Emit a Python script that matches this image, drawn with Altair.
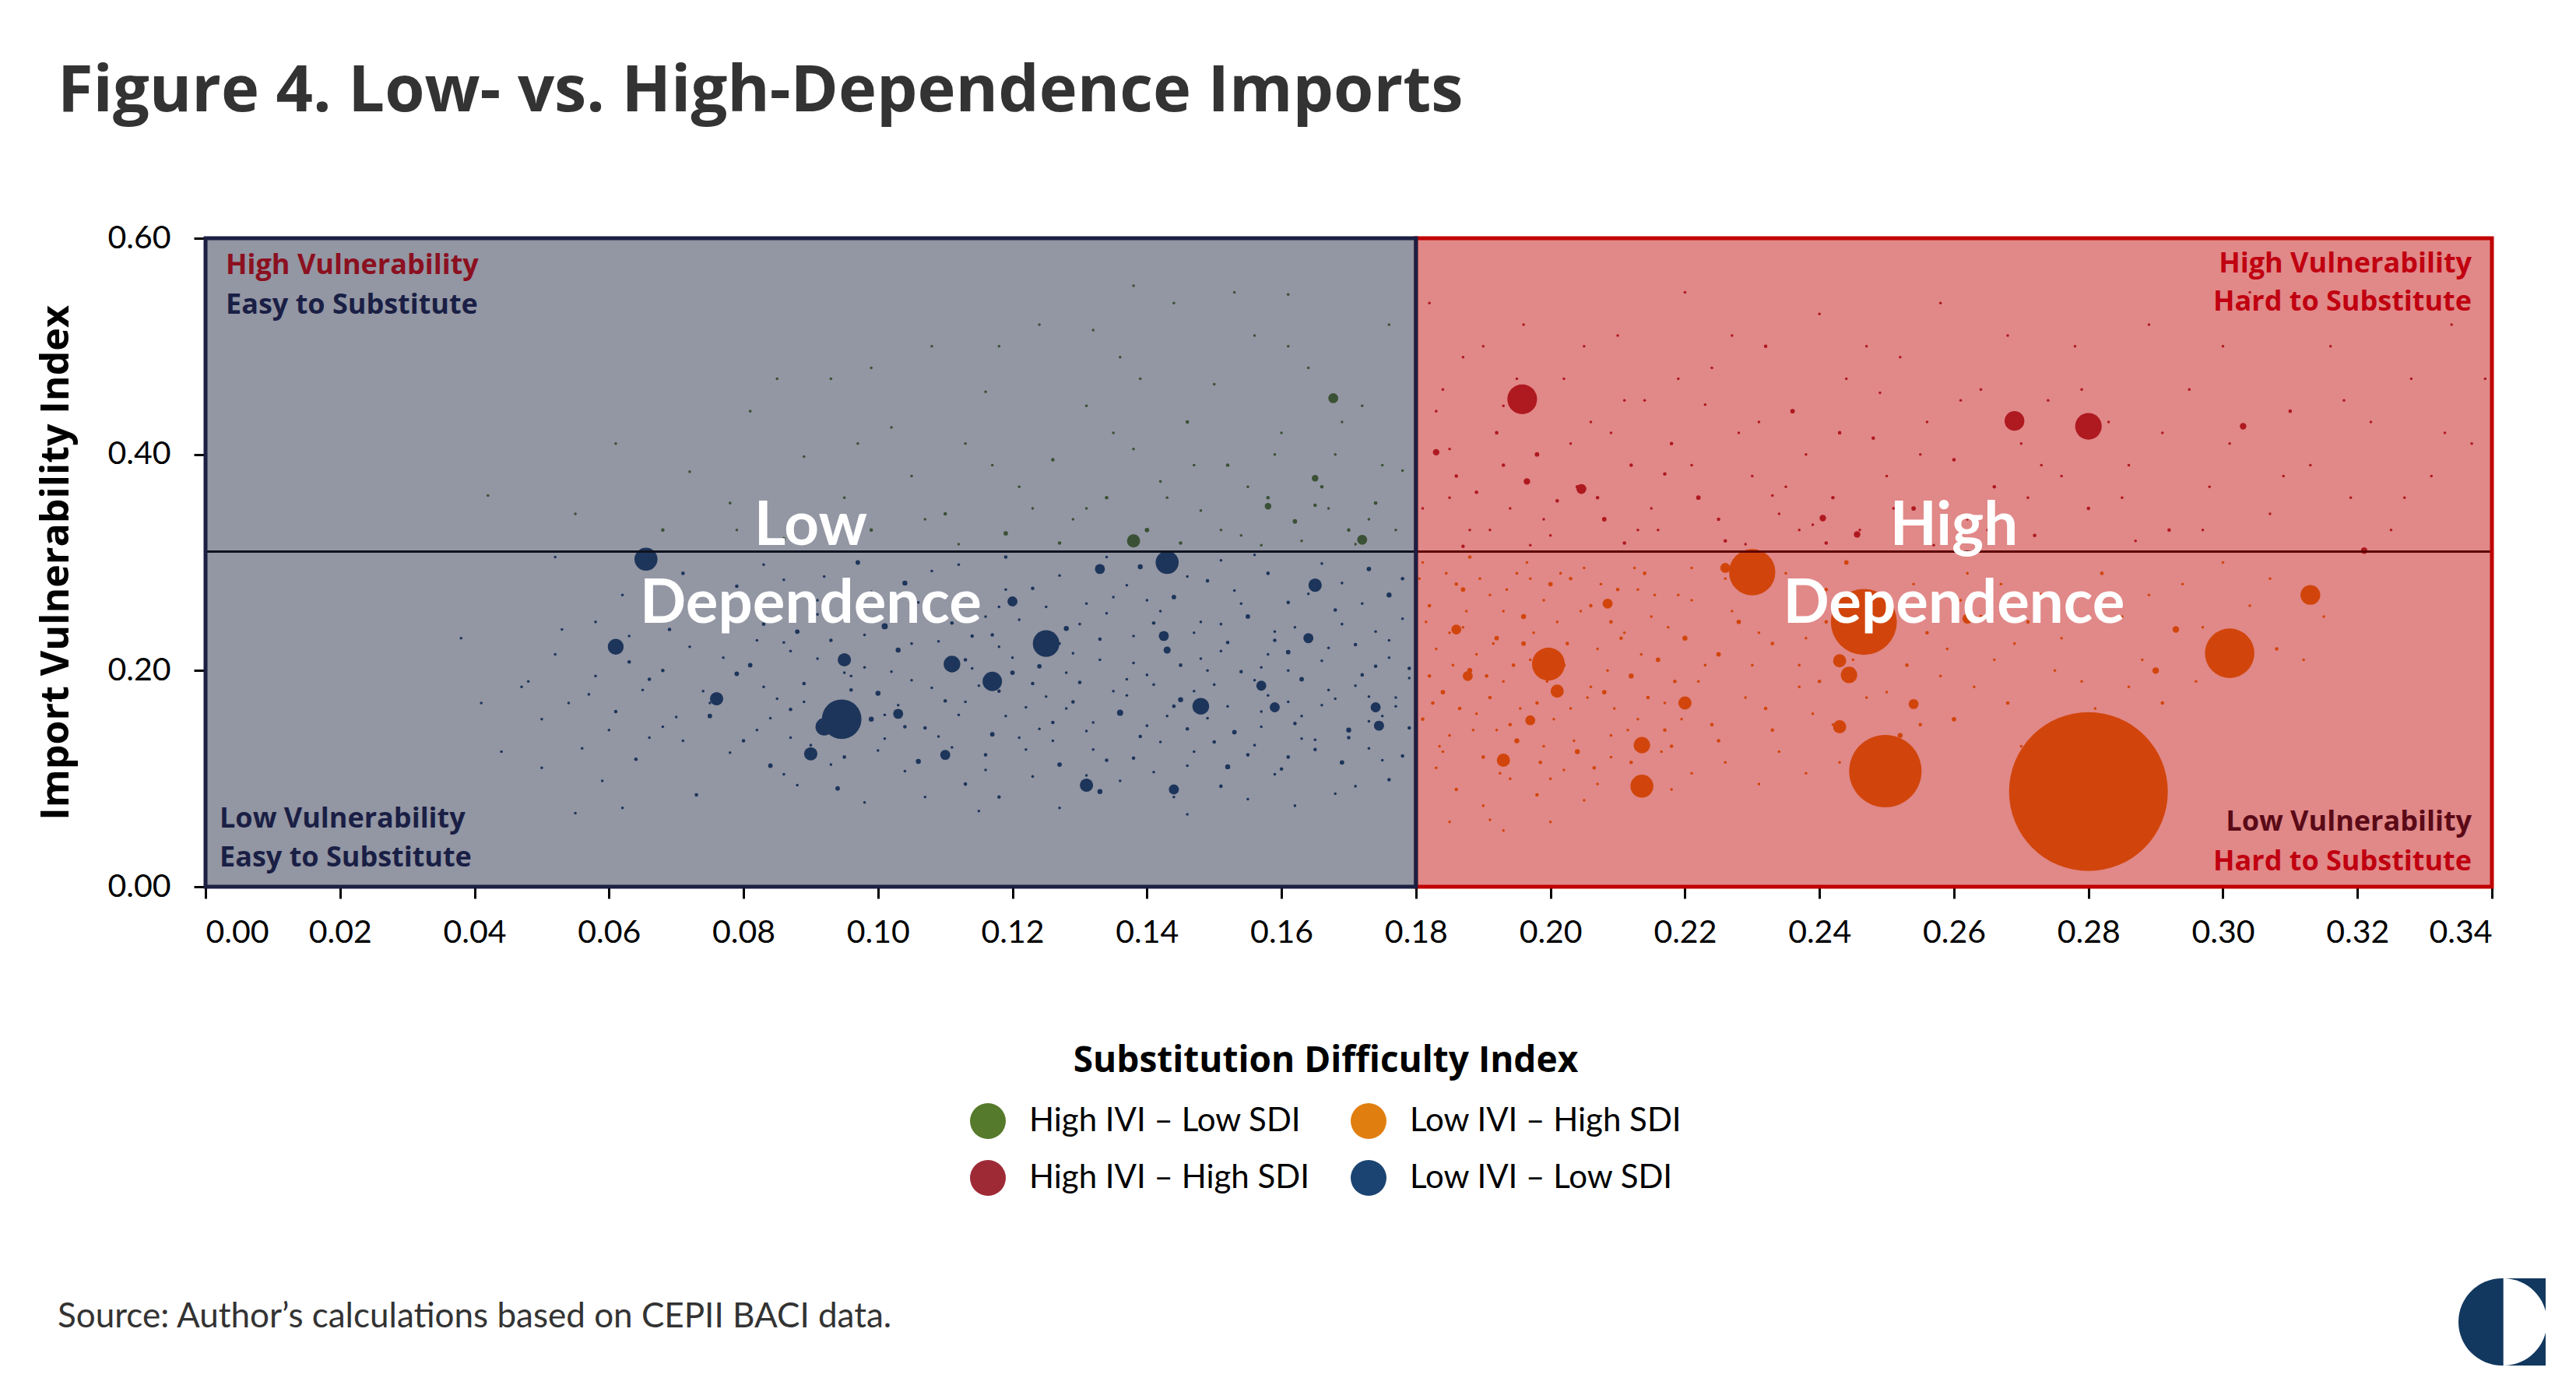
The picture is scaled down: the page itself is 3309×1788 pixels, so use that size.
import altair as alt
import pandas as pd

# ---------------- data ----------------
CATS = ["High IVI – Low SDI", "High IVI – High SDI", "Low IVI – High SDI", "Low IVI – Low SDI"]
COLORS = ["#557A2B", "#9E2A36", "#E07F10", "#1B4472"]

SDI_CUT = 0.18
IVI_CUT = 0.31
X_TICKS = [0.00, 0.02, 0.04, 0.06, 0.08, 0.10, 0.12, 0.14, 0.16, 0.18, 0.20, 0.22, 0.24, 0.26, 0.28, 0.30, 0.32, 0.34]
Y_TICKS = [0.0, 0.2, 0.4, 0.6]

# (SDI, IVI, import value)
blue_pts = [
    (0.0655, 0.303, 2.1), (0.143, 0.300, 2.1), (0.0946, 0.155, 6.2), (0.125, 0.225, 2.8), (0.061, 0.222, 1.0),
    (0.111, 0.206, 1.1), (0.117, 0.190, 1.5), (0.095, 0.210, 0.7), (0.148, 0.167, 1.1), (0.165, 0.279, 0.7),
    (0.090, 0.123, 0.7), (0.131, 0.094, 0.7), (0.144, 0.090, 0.4), (0.076, 0.174, 0.7), (0.159, 0.166, 0.4),
    (0.1745, 0.149, 0.4), (0.174, 0.166, 0.4), (0.164, 0.230, 0.4), (0.1425, 0.232, 0.4), (0.133, 0.294, 0.4),
    (0.110, 0.122, 0.4), (0.103, 0.160, 0.4), (0.120, 0.264, 0.4), (0.157, 0.186, 0.4), (0.092, 0.148, 1.2),
    (0.052, 0.305, 0.03), (0.071, 0.29, 0.05), (0.083, 0.298, 0.03), (0.097, 0.30, 0.08), (0.108, 0.292, 0.03),
    (0.119, 0.305, 0.05), (0.127, 0.288, 0.03), (0.139, 0.296, 0.1), (0.151, 0.302, 0.03), (0.158, 0.29, 0.05),
    (0.166, 0.299, 0.03), (0.173, 0.294, 0.08), (0.146, 0.287, 0.03), (0.062, 0.27, 0.03), (0.079, 0.278, 0.05),
    (0.091, 0.265, 0.03), (0.104, 0.281, 0.1), (0.112, 0.268, 0.03), (0.123, 0.276, 0.05), (0.131, 0.262, 0.03),
    (0.137, 0.279, 0.03), (0.144, 0.268, 0.08), (0.153, 0.274, 0.03), (0.161, 0.263, 0.05), (0.169, 0.281, 0.03),
    (0.176, 0.27, 0.1), (0.099, 0.273, 0.03), (0.086, 0.284, 0.03), (0.149, 0.283, 0.05), (0.118, 0.259, 0.03),
    (0.058, 0.245, 0.03), (0.069, 0.238, 0.05), (0.077, 0.252, 0.03), (0.088, 0.236, 0.08), (0.094, 0.249, 0.03),
    (0.101, 0.241, 0.15), (0.107, 0.255, 0.03), (0.114, 0.232, 0.05), (0.121, 0.247, 0.03), (0.128, 0.239, 0.1),
    (0.134, 0.253, 0.03), (0.141, 0.244, 0.05), (0.147, 0.235, 0.03), (0.155, 0.25, 0.08), (0.162, 0.24, 0.03),
    (0.168, 0.256, 0.05), (0.174, 0.236, 0.03), (0.178, 0.248, 0.03), (0.083, 0.243, 0.05), (0.116, 0.25, 0.03),
    (0.151, 0.243, 0.03), (0.052, 0.215, 0.03), (0.063, 0.208, 0.05), (0.072, 0.222, 0.03), (0.081, 0.205, 0.08),
    (0.087, 0.218, 0.03), (0.093, 0.228, 0.05), (0.098, 0.203, 0.03), (0.103, 0.219, 0.1), (0.109, 0.227, 0.03),
    (0.113, 0.21, 0.05), (0.118, 0.222, 0.03), (0.124, 0.204, 0.08), (0.129, 0.216, 0.03), (0.133, 0.229, 0.05),
    (0.138, 0.207, 0.03), (0.143, 0.219, 0.2), (0.148, 0.211, 0.03), (0.152, 0.226, 0.05), (0.157, 0.203, 0.03),
    (0.161, 0.217, 0.08), (0.166, 0.209, 0.03), (0.171, 0.224, 0.05), (0.176, 0.212, 0.03), (0.179, 0.202, 0.05),
    (0.091, 0.211, 0.03), (0.127, 0.225, 0.03), (0.159, 0.228, 0.05), (0.047, 0.185, 0.03), (0.057, 0.178, 0.03),
    (0.066, 0.192, 0.05), (0.074, 0.181, 0.03), (0.079, 0.197, 0.08), (0.085, 0.174, 0.03), (0.089, 0.188, 0.05),
    (0.096, 0.195, 0.03), (0.10, 0.179, 0.1), (0.105, 0.191, 0.03), (0.11, 0.172, 0.05), (0.115, 0.186, 0.03),
    (0.12, 0.198, 0.08), (0.125, 0.176, 0.03), (0.13, 0.189, 0.05), (0.135, 0.181, 0.03), (0.14, 0.196, 0.03),
    (0.145, 0.173, 0.1), (0.15, 0.187, 0.03), (0.154, 0.199, 0.05), (0.158, 0.177, 0.03), (0.163, 0.192, 0.08),
    (0.167, 0.182, 0.03), (0.172, 0.196, 0.05), (0.177, 0.175, 0.03), (0.083, 0.185, 0.03), (0.118, 0.181, 0.05),
    (0.137, 0.192, 0.03), (0.161, 0.171, 0.03), (0.05, 0.155, 0.03), (0.061, 0.162, 0.05), (0.068, 0.148, 0.03),
    (0.075, 0.158, 0.08), (0.082, 0.145, 0.03), (0.087, 0.164, 0.05), (0.092, 0.142, 0.03), (0.099, 0.155, 0.1),
    (0.103, 0.168, 0.03), (0.107, 0.147, 0.05), (0.112, 0.159, 0.03), (0.117, 0.141, 0.08), (0.122, 0.166, 0.03),
    (0.126, 0.152, 0.05), (0.131, 0.144, 0.03), (0.136, 0.161, 0.15), (0.14, 0.149, 0.03), (0.144, 0.167, 0.05),
    (0.149, 0.156, 0.03), (0.153, 0.143, 0.08), (0.157, 0.162, 0.03), (0.162, 0.151, 0.05), (0.166, 0.168, 0.03),
    (0.17, 0.145, 0.1), (0.175, 0.158, 0.03), (0.179, 0.147, 0.05), (0.097, 0.16, 0.03), (0.128, 0.165, 0.03),
    (0.146, 0.146, 0.05), (0.056, 0.128, 0.03), (0.064, 0.118, 0.05), (0.071, 0.135, 0.03), (0.078, 0.124, 0.03),
    (0.084, 0.112, 0.08), (0.09, 0.131, 0.03), (0.095, 0.12, 0.05), (0.101, 0.137, 0.03), (0.106, 0.116, 0.1),
    (0.111, 0.129, 0.03), (0.116, 0.122, 0.05), (0.121, 0.138, 0.03), (0.127, 0.113, 0.08), (0.132, 0.127, 0.03),
    (0.138, 0.119, 0.05), (0.142, 0.134, 0.03), (0.147, 0.125, 0.03), (0.152, 0.111, 0.1), (0.156, 0.131, 0.03),
    (0.161, 0.12, 0.05), (0.165, 0.136, 0.03), (0.169, 0.115, 0.08), (0.173, 0.128, 0.03), (0.178, 0.121, 0.05),
    (0.087, 0.138, 0.03), (0.059, 0.098, 0.03), (0.073, 0.085, 0.05), (0.086, 0.104, 0.03), (0.094, 0.091, 0.08),
    (0.104, 0.107, 0.03), (0.113, 0.095, 0.05), (0.123, 0.102, 0.03), (0.133, 0.088, 0.1), (0.141, 0.106, 0.03),
    (0.151, 0.093, 0.05), (0.159, 0.104, 0.03), (0.168, 0.086, 0.03), (0.176, 0.099, 0.05), (0.098, 0.078, 0.03),
    (0.127, 0.073, 0.03), (0.146, 0.067, 0.03), (0.118, 0.083, 0.05), (0.062, 0.073, 0.03), (0.055, 0.068, 0.03),
    (0.162, 0.075, 0.03), (0.044, 0.125, 0.03), (0.048, 0.19, 0.03), (0.041, 0.17, 0.03), (0.038, 0.23, 0.03),
    (0.086, 0.226, 0.03), (0.089, 0.171, 0.03), (0.091, 0.252, 0.03), (0.093, 0.113, 0.03), (0.096, 0.182, 0.05),
    (0.098, 0.233, 0.03), (0.10, 0.126, 0.03), (0.102, 0.199, 0.03), (0.104, 0.148, 0.05), (0.106, 0.263, 0.03),
    (0.108, 0.184, 0.03), (0.109, 0.139, 0.03), (0.111, 0.244, 0.05), (0.113, 0.171, 0.03), (0.114, 0.202, 0.03),
    (0.116, 0.108, 0.03), (0.117, 0.233, 0.05), (0.119, 0.158, 0.03), (0.12, 0.212, 0.03), (0.122, 0.127, 0.03),
    (0.123, 0.188, 0.05), (0.125, 0.259, 0.03), (0.126, 0.135, 0.03), (0.128, 0.198, 0.03), (0.129, 0.171, 0.05),
    (0.13, 0.243, 0.03), (0.132, 0.152, 0.03), (0.133, 0.21, 0.03), (0.134, 0.117, 0.05), (0.135, 0.268, 0.03),
    (0.137, 0.177, 0.03), (0.138, 0.232, 0.03), (0.139, 0.139, 0.05), (0.141, 0.187, 0.03), (0.142, 0.255, 0.03),
    (0.143, 0.158, 0.03), (0.145, 0.205, 0.05), (0.146, 0.112, 0.03), (0.147, 0.181, 0.03), (0.148, 0.245, 0.03),
    (0.15, 0.134, 0.05), (0.151, 0.218, 0.03), (0.152, 0.167, 0.03), (0.154, 0.262, 0.03), (0.155, 0.122, 0.05),
    (0.156, 0.191, 0.03), (0.157, 0.148, 0.03), (0.159, 0.236, 0.03), (0.16, 0.109, 0.05), (0.161, 0.20, 0.03),
    (0.163, 0.158, 0.03), (0.164, 0.271, 0.03), (0.165, 0.127, 0.05), (0.167, 0.221, 0.03), (0.168, 0.174, 0.03),
    (0.169, 0.243, 0.03), (0.17, 0.138, 0.05), (0.171, 0.186, 0.03), (0.172, 0.262, 0.03), (0.173, 0.153, 0.03),
    (0.174, 0.204, 0.05), (0.175, 0.117, 0.03), (0.176, 0.228, 0.03), (0.177, 0.167, 0.03), (0.178, 0.285, 0.05),
    (0.179, 0.193, 0.03), (0.084, 0.156, 0.03), (0.082, 0.228, 0.03), (0.08, 0.135, 0.05), (0.077, 0.212, 0.03),
    (0.075, 0.17, 0.03), (0.073, 0.247, 0.03), (0.07, 0.157, 0.03), (0.068, 0.20, 0.05), (0.066, 0.138, 0.03),
    (0.065, 0.182, 0.03), (0.063, 0.232, 0.03), (0.06, 0.145, 0.03), (0.058, 0.195, 0.03), (0.054, 0.17, 0.03),
    (0.053, 0.238, 0.03), (0.05, 0.11, 0.03), (0.107, 0.083, 0.03), (0.115, 0.07, 0.03), (0.136, 0.098, 0.03),
    (0.155, 0.081, 0.03), (0.171, 0.093, 0.03), (0.144, 0.083, 0.03), (0.092, 0.287, 0.03), (0.112, 0.298, 0.03),
    (0.134, 0.305, 0.03), (0.156, 0.307, 0.03), (0.105, 0.225, 0.03), (0.124, 0.146, 0.03), (0.149, 0.20, 0.03),
    (0.163, 0.137, 0.03), (0.101, 0.159, 0.03), (0.119, 0.275, 0.03), (0.14, 0.265, 0.03), (0.095, 0.198, 0.03),
    (0.158, 0.215, 0.03), (0.173, 0.176, 0.03), (0.131, 0.103, 0.03), (0.088, 0.094, 0.03),
]

green_pts = [
    (0.1677, 0.452, 0.39), (0.138, 0.320, 0.69), (0.172, 0.321, 0.39), (0.165, 0.378, 0.17), (0.158, 0.352, 0.17),
    (0.042, 0.362, 0.03), (0.055, 0.345, 0.03), (0.061, 0.41, 0.03), (0.068, 0.33, 0.05), (0.072, 0.384, 0.03),
    (0.078, 0.355, 0.03), (0.081, 0.44, 0.03), (0.086, 0.322, 0.05), (0.089, 0.398, 0.03), (0.093, 0.47, 0.03),
    (0.095, 0.36, 0.03), (0.099, 0.33, 0.05), (0.102, 0.425, 0.03), (0.105, 0.38, 0.03), (0.108, 0.50, 0.03),
    (0.11, 0.345, 0.05), (0.113, 0.41, 0.03), (0.116, 0.458, 0.03), (0.119, 0.327, 0.08), (0.121, 0.37, 0.03),
    (0.124, 0.52, 0.03), (0.126, 0.395, 0.05), (0.129, 0.34, 0.03), (0.131, 0.445, 0.03), (0.134, 0.36, 0.05),
    (0.136, 0.49, 0.03), (0.138, 0.405, 0.03), (0.14, 0.33, 0.08), (0.142, 0.375, 0.03), (0.144, 0.54, 0.03),
    (0.146, 0.43, 0.05), (0.148, 0.348, 0.03), (0.15, 0.465, 0.03), (0.152, 0.39, 0.05), (0.154, 0.325, 0.03),
    (0.156, 0.51, 0.03), (0.158, 0.36, 0.05), (0.16, 0.42, 0.03), (0.162, 0.338, 0.08), (0.164, 0.48, 0.03),
    (0.166, 0.37, 0.05), (0.168, 0.40, 0.03), (0.17, 0.33, 0.05), (0.172, 0.445, 0.03), (0.174, 0.355, 0.05),
    (0.176, 0.52, 0.03), (0.178, 0.385, 0.03), (0.153, 0.55, 0.03), (0.138, 0.556, 0.03), (0.161, 0.548, 0.03),
    (0.118, 0.50, 0.03), (0.099, 0.48, 0.03), (0.085, 0.47, 0.03), (0.132, 0.515, 0.03), (0.145, 0.318, 0.05),
    (0.157, 0.316, 0.03), (0.127, 0.318, 0.05), (0.171, 0.317, 0.03), (0.112, 0.317, 0.03), (0.165, 0.353, 0.05),
    (0.131, 0.35, 0.03), (0.143, 0.36, 0.03), (0.147, 0.39, 0.03), (0.151, 0.33, 0.03), (0.155, 0.37, 0.03),
    (0.159, 0.40, 0.03), (0.163, 0.32, 0.03), (0.167, 0.35, 0.03), (0.169, 0.43, 0.03), (0.173, 0.34, 0.03),
    (0.175, 0.39, 0.03), (0.177, 0.33, 0.03), (0.135, 0.42, 0.03), (0.123, 0.35, 0.03), (0.117, 0.39, 0.03),
    (0.107, 0.34, 0.03), (0.097, 0.41, 0.03), (0.079, 0.33, 0.03), (0.139, 0.47, 0.03), (0.161, 0.50, 0.03),
]

red_pts = [
    (0.1958, 0.451, 3.5), (0.269, 0.431, 1.55), (0.280, 0.426, 2.8), (0.2046, 0.368, 0.39), (0.1965, 0.375, 0.17),
    (0.2456, 0.326, 0.17), (0.303, 0.426, 0.17), (0.2405, 0.341, 0.17), (0.321, 0.311, 0.17), (0.183, 0.402, 0.17),
    (0.182, 0.54, 0.03), (0.184, 0.46, 0.03), (0.186, 0.38, 0.05), (0.188, 0.33, 0.03), (0.19, 0.50, 0.03),
    (0.192, 0.42, 0.05), (0.194, 0.35, 0.03), (0.196, 0.52, 0.03), (0.198, 0.40, 0.08), (0.20, 0.325, 0.03),
    (0.202, 0.47, 0.03), (0.204, 0.37, 0.05), (0.206, 0.43, 0.03), (0.208, 0.34, 0.08), (0.21, 0.51, 0.03),
    (0.212, 0.39, 0.05), (0.214, 0.45, 0.03), (0.216, 0.33, 0.03), (0.218, 0.41, 0.05), (0.22, 0.55, 0.03),
    (0.222, 0.36, 0.08), (0.224, 0.48, 0.03), (0.226, 0.32, 0.05), (0.228, 0.42, 0.03), (0.23, 0.38, 0.03),
    (0.232, 0.50, 0.05), (0.234, 0.345, 0.03), (0.236, 0.44, 0.08), (0.238, 0.40, 0.03), (0.24, 0.53, 0.03),
    (0.242, 0.36, 0.05), (0.244, 0.47, 0.03), (0.246, 0.33, 0.03), (0.248, 0.415, 0.05), (0.25, 0.38, 0.03),
    (0.252, 0.49, 0.03), (0.254, 0.35, 0.08), (0.256, 0.43, 0.03), (0.258, 0.54, 0.03), (0.26, 0.395, 0.05),
    (0.262, 0.34, 0.03), (0.264, 0.46, 0.03), (0.266, 0.37, 0.05), (0.268, 0.51, 0.03), (0.27, 0.41, 0.03),
    (0.272, 0.325, 0.05), (0.274, 0.45, 0.03), (0.276, 0.38, 0.03), (0.278, 0.50, 0.03), (0.28, 0.35, 0.05),
    (0.283, 0.43, 0.03), (0.286, 0.39, 0.03), (0.289, 0.52, 0.03), (0.292, 0.33, 0.05), (0.295, 0.46, 0.03),
    (0.298, 0.37, 0.03), (0.301, 0.41, 0.03), (0.304, 0.55, 0.03), (0.307, 0.345, 0.03), (0.31, 0.44, 0.05),
    (0.313, 0.39, 0.03), (0.316, 0.50, 0.03), (0.319, 0.36, 0.03), (0.322, 0.43, 0.03), (0.325, 0.33, 0.03),
    (0.328, 0.47, 0.03), (0.331, 0.38, 0.03), (0.334, 0.52, 0.03), (0.337, 0.41, 0.03), (0.193, 0.445, 0.03),
    (0.201, 0.357, 0.05), (0.209, 0.42, 0.03), (0.217, 0.382, 0.05), (0.223, 0.446, 0.03), (0.233, 0.362, 0.03),
    (0.241, 0.318, 0.05), (0.249, 0.457, 0.03), (0.257, 0.316, 0.03), (0.187, 0.315, 0.05), (0.197, 0.316, 0.03),
    (0.211, 0.318, 0.05), (0.229, 0.317, 0.03), (0.185, 0.405, 0.03), (0.189, 0.365, 0.05), (0.215, 0.35, 0.03),
    (0.239, 0.335, 0.03), (0.271, 0.36, 0.03), (0.287, 0.32, 0.03), (0.30, 0.50, 0.03), (0.339, 0.47, 0.03),
    (0.181, 0.35, 0.03), (0.183, 0.44, 0.03), (0.185, 0.36, 0.03), (0.187, 0.49, 0.03), (0.191, 0.33, 0.03),
    (0.193, 0.39, 0.05), (0.195, 0.47, 0.03), (0.199, 0.34, 0.03), (0.203, 0.41, 0.03), (0.205, 0.50, 0.03),
    (0.207, 0.36, 0.05), (0.211, 0.45, 0.03), (0.213, 0.33, 0.03), (0.219, 0.47, 0.03), (0.221, 0.39, 0.03),
    (0.225, 0.34, 0.05), (0.227, 0.51, 0.03), (0.231, 0.43, 0.03), (0.235, 0.37, 0.03), (0.237, 0.33, 0.03),
    (0.243, 0.42, 0.05), (0.247, 0.50, 0.03), (0.251, 0.35, 0.03), (0.255, 0.40, 0.03), (0.261, 0.45, 0.03),
    (0.265, 0.33, 0.03), (0.273, 0.39, 0.03), (0.279, 0.46, 0.03), (0.285, 0.36, 0.03), (0.291, 0.42, 0.03),
    (0.297, 0.33, 0.03), (0.309, 0.38, 0.03), (0.318, 0.45, 0.03), (0.327, 0.36, 0.03), (0.333, 0.42, 0.03),
]

orange_pts = [
    (0.2800, 0.088, 100.0), (0.2498, 0.107, 20.8), (0.2466, 0.245, 17.3), (0.230, 0.291, 8.5), (0.301, 0.216, 9.7),
    (0.1997, 0.206, 4.3), (0.313, 0.270, 1.55), (0.2136, 0.093, 2.1), (0.2136, 0.131, 1.08), (0.201, 0.181, 0.69),
    (0.2444, 0.196, 1.08), (0.243, 0.209, 0.69), (0.193, 0.117, 0.69), (0.1877, 0.195, 0.39), (0.243, 0.148, 0.69),
    (0.254, 0.169, 0.39), (0.220, 0.170, 0.69), (0.197, 0.154, 0.39), (0.290, 0.200, 0.17), (0.293, 0.238, 0.17),
    (0.226, 0.295, 0.39), (0.284, 0.137, 0.17), (0.2085, 0.262, 0.39), (0.186, 0.238, 0.39), (0.262, 0.248, 0.39),
    (0.181, 0.30, 0.03), (0.182, 0.26, 0.05), (0.183, 0.22, 0.03), (0.184, 0.18, 0.08), (0.185, 0.14, 0.03),
    (0.186, 0.28, 0.05), (0.187, 0.24, 0.03), (0.188, 0.20, 0.1), (0.189, 0.16, 0.03), (0.19, 0.12, 0.05),
    (0.191, 0.27, 0.03), (0.192, 0.23, 0.08), (0.193, 0.19, 0.03), (0.194, 0.15, 0.05), (0.195, 0.29, 0.03),
    (0.196, 0.25, 0.1), (0.197, 0.21, 0.03), (0.198, 0.17, 0.05), (0.199, 0.13, 0.03), (0.20, 0.28, 0.08),
    (0.201, 0.245, 0.03), (0.202, 0.205, 0.05), (0.203, 0.165, 0.03), (0.204, 0.125, 0.1), (0.205, 0.295, 0.03),
    (0.206, 0.26, 0.05), (0.207, 0.22, 0.03), (0.208, 0.18, 0.08), (0.209, 0.14, 0.03), (0.21, 0.275, 0.05),
    (0.211, 0.235, 0.03), (0.212, 0.195, 0.1), (0.213, 0.155, 0.03), (0.214, 0.29, 0.05), (0.215, 0.25, 0.03),
    (0.216, 0.21, 0.08), (0.217, 0.17, 0.03), (0.218, 0.13, 0.05), (0.219, 0.27, 0.03), (0.22, 0.23, 0.1),
    (0.222, 0.19, 0.03), (0.224, 0.15, 0.05), (0.226, 0.285, 0.03), (0.228, 0.245, 0.08), (0.23, 0.205, 0.03),
    (0.232, 0.165, 0.05), (0.234, 0.125, 0.03), (0.236, 0.27, 0.1), (0.238, 0.23, 0.03), (0.24, 0.19, 0.05),
    (0.242, 0.15, 0.03), (0.244, 0.30, 0.08), (0.246, 0.26, 0.03), (0.248, 0.22, 0.05), (0.25, 0.18, 0.03),
    (0.252, 0.14, 0.1), (0.254, 0.28, 0.03), (0.256, 0.235, 0.05), (0.258, 0.195, 0.03), (0.26, 0.155, 0.08),
    (0.262, 0.29, 0.03), (0.264, 0.25, 0.05), (0.266, 0.21, 0.03), (0.268, 0.17, 0.05), (0.27, 0.13, 0.03),
    (0.273, 0.27, 0.05), (0.276, 0.23, 0.03), (0.279, 0.19, 0.03), (0.282, 0.29, 0.05), (0.285, 0.25, 0.03),
    (0.288, 0.21, 0.03), (0.291, 0.17, 0.05), (0.294, 0.28, 0.03), (0.297, 0.24, 0.03), (0.30, 0.30, 0.03),
    (0.304, 0.26, 0.03), (0.308, 0.22, 0.05), (0.183, 0.11, 0.03), (0.186, 0.09, 0.05), (0.19, 0.075, 0.03),
    (0.194, 0.10, 0.03), (0.198, 0.085, 0.05), (0.202, 0.108, 0.03), (0.207, 0.095, 0.03), (0.212, 0.115, 0.05),
    (0.221, 0.105, 0.03), (0.231, 0.095, 0.03), (0.182, 0.195, 0.05), (0.185, 0.235, 0.03), (0.187, 0.275, 0.08),
    (0.189, 0.215, 0.03), (0.191, 0.175, 0.05), (0.193, 0.255, 0.03), (0.195, 0.135, 0.1), (0.197, 0.285, 0.03),
    (0.181, 0.155, 0.05), (0.184, 0.125, 0.03), (0.188, 0.305, 0.05), (0.192, 0.145, 0.03), (0.196, 0.225, 0.08),
    (0.199, 0.265, 0.03), (0.203, 0.285, 0.05), (0.206, 0.185, 0.03), (0.209, 0.245, 0.05), (0.213, 0.275, 0.03),
    (0.217, 0.145, 0.05), (0.221, 0.265, 0.03), (0.225, 0.215, 0.08), (0.229, 0.275, 0.03), (0.233, 0.225, 0.05),
    (0.237, 0.185, 0.03), (0.241, 0.275, 0.05), (0.245, 0.21, 0.03), (0.253, 0.205, 0.05), (0.261, 0.265, 0.03),
    (0.269, 0.225, 0.03), (0.277, 0.26, 0.05), (0.286, 0.185, 0.03), (0.30, 0.20, 0.03), (0.315, 0.25, 0.03),
    (0.20, 0.06, 0.03), (0.185, 0.06, 0.03), (0.193, 0.052, 0.03),
    (0.1805, 0.285, 0.03), (0.1815, 0.245, 0.03), (0.1825, 0.17, 0.05), (0.1835, 0.13, 0.03), (0.1845, 0.29, 0.03),
    (0.1855, 0.205, 0.03), (0.1865, 0.165, 0.05), (0.1875, 0.255, 0.03), (0.1885, 0.145, 0.03), (0.1895, 0.285, 0.03),
    (0.1905, 0.195, 0.05), (0.1915, 0.225, 0.03), (0.1925, 0.105, 0.03), (0.1935, 0.275, 0.03), (0.1945, 0.205, 0.05),
    (0.1955, 0.165, 0.03), (0.1965, 0.30, 0.03), (0.1975, 0.235, 0.03), (0.1985, 0.115, 0.05), (0.1995, 0.19, 0.03),
    (0.2005, 0.155, 0.03), (0.2015, 0.29, 0.03), (0.2025, 0.225, 0.05), (0.2035, 0.135, 0.03), (0.2045, 0.255, 0.03),
    (0.2055, 0.175, 0.03), (0.2065, 0.11, 0.05), (0.2075, 0.28, 0.03), (0.2085, 0.20, 0.03), (0.2095, 0.165, 0.03),
    (0.2105, 0.23, 0.05), (0.2115, 0.145, 0.03), (0.2125, 0.295, 0.03), (0.2135, 0.215, 0.03), (0.2145, 0.175, 0.05),
    (0.2155, 0.27, 0.03), (0.2165, 0.125, 0.03), (0.2175, 0.24, 0.03), (0.2185, 0.19, 0.05), (0.2195, 0.155, 0.03),
    (0.221, 0.295, 0.03), (0.223, 0.205, 0.03), (0.225, 0.135, 0.05), (0.227, 0.255, 0.03), (0.229, 0.175, 0.03),
    (0.231, 0.235, 0.03), (0.233, 0.145, 0.05), (0.235, 0.29, 0.03), (0.237, 0.205, 0.03), (0.239, 0.16, 0.03),
    (0.241, 0.245, 0.05), (0.243, 0.115, 0.03), (0.247, 0.175, 0.03), (0.251, 0.255, 0.03), (0.255, 0.15, 0.05),
    (0.259, 0.22, 0.03), (0.263, 0.185, 0.03), (0.267, 0.28, 0.03), (0.271, 0.245, 0.05), (0.275, 0.20, 0.03),
    (0.281, 0.165, 0.03), (0.289, 0.27, 0.03), (0.296, 0.19, 0.03), (0.307, 0.285, 0.03), (0.312, 0.21, 0.03),
    (0.20, 0.10, 0.03), (0.209, 0.12, 0.03), (0.218, 0.09, 0.03), (0.226, 0.115, 0.03), (0.238, 0.105, 0.03),
    (0.191, 0.062, 0.03), (0.205, 0.08, 0.03),
]

rows = []
for cat, pts in [(CATS[0], green_pts), (CATS[1], red_pts), (CATS[2], orange_pts), (CATS[3], blue_pts)]:
    for sx, iy, v in pts:
        rows.append({"sdi": sx, "ivi": iy, "value": v, "group": cat})
df = pd.DataFrame(rows)

FONT = "Lato"
BOLD_FONT = "Open Sans"
W, H = 2937, 833

x_scale = alt.Scale(domain=[0, 0.34], nice=False, zero=True)
y_scale = alt.Scale(domain=[0, 0.6], nice=False, zero=True)

points = alt.Chart(df).mark_circle(opacity=1, strokeWidth=0).encode(
    x=alt.X("sdi:Q", scale=x_scale, axis=alt.Axis(
        values=X_TICKS, format=".2f", title=None, grid=False, domain=False,
        tickSize=15, tickWidth=3, tickColor="#000000",
        labelFont=FONT, labelFontSize=41, labelColor="#000000", labelPadding=24)),
    y=alt.Y("ivi:Q", scale=y_scale, axis=alt.Axis(
        values=Y_TICKS, format=".2f", title="Import Vulnerability Index", grid=False, domain=False,
        tickSize=15, tickWidth=3, tickColor="#000000",
        labelFont=FONT, labelFontSize=41, labelColor="#000000", labelPadding=30,
        titleFont=BOLD_FONT, titleFontSize=50, titleFontWeight="bold", titleColor="#000000", titlePadding=40)),
    size=alt.Size("value:Q", scale=alt.Scale(type="linear", domain=[0, 100], range=[0, 41616]), legend=None),
    color=alt.Color("group:N", scale=alt.Scale(domain=CATS, range=COLORS), legend=alt.Legend(
        title="Substitution Difficulty Index", orient="none", legendX=982, legendY=1035,
        columns=2, symbolType="circle", symbolSize=2116, symbolOpacity=1, symbolStrokeWidth=0,
        labelFont=FONT, labelFontSize=42, labelColor="#000000", labelOffset=30, labelLimit=0,
        titleFont=BOLD_FONT, titleFontSize=46, titleFontWeight="bold", titleColor="#000000",
        titleAnchor="middle", titleAlign="center", titlePadding=30, titleLimit=0,
        columnPadding=52, rowPadding=27, padding=0)),
    order=alt.Order("value:Q", sort="descending"),
)

cut_line = alt.Chart(pd.DataFrame({"v": [IVI_CUT]})).mark_rule(color="#000000", strokeWidth=3).encode(
    y=alt.Y("v:Q", scale=y_scale)
)

quad = pd.DataFrame({
    "x0": [SDI_CUT, 0.0], "x1": [0.34, SDI_CUT], "y0": [0.0, 0.0], "y1": [0.6, 0.6],
    "side": ["high", "low"],
})
rect_high = alt.Chart(quad[quad.side == "high"]).mark_rect(
    fill="#C00909", fillOpacity=0.484, stroke="#C00000", strokeWidth=5, strokeOpacity=1
).encode(x=alt.X("x0:Q", scale=x_scale), x2="x1:Q", y=alt.Y("y0:Q", scale=y_scale), y2="y1:Q")
rect_low = alt.Chart(quad[quad.side == "low"]).mark_rect(
    fill="#202641", fillOpacity=0.484, stroke="#1B1F42", strokeWidth=5, strokeOpacity=1
).encode(x=alt.X("x0:Q", scale=x_scale), x2="x1:Q", y=alt.Y("y0:Q", scale=y_scale), y2="y1:Q")

centers = pd.DataFrame({
    "cx": [SDI_CUT / 2, (SDI_CUT + 0.34) / 2],
    "cy": [0.333, 0.333],
    "t": ["Low\nDependence", "High\nDependence"],
})
center_text = alt.Chart(centers).mark_text(
    font=FONT, fontSize=78, fontWeight="bold", color="#FFFFFF", lineBreak="\n", lineHeight=100,
    align="center", baseline="middle"
).encode(x=alt.X("cx:Q", scale=x_scale), y=alt.Y("cy:Q", scale=y_scale), text="t:N")


def label(text, px, py, color, align="left", size=36, weight="bold", font=BOLD_FONT):
    return alt.Chart(pd.DataFrame({"t": [text]})).mark_text(
        font=font, fontSize=size, fontWeight=weight, color=color, align=align, baseline="middle"
    ).encode(x=alt.value(px), y=alt.value(py), text="t:N")


corner = [
    label("High Vulnerability", 26, 35, "#8B1020"),
    label("Easy to Substitute", 26, 86, "#1A1F45"),
    label("Low Vulnerability", 18, 746, "#1A1F45"),
    label("Easy to Substitute", 18, 796, "#1A1F45"),
    label("High Vulnerability", W - 26, 33, "#C00010", align="right"),
    label("Hard to Substitute", W - 26, 82, "#C00010", align="right"),
    label("Low Vulnerability", W - 26, 750, "#5A0A17", align="right"),
    label("Hard to Substitute", W - 26, 801, "#C00010", align="right"),
]

source = label("Source: Author\u2019s calculations based on CEPII BACI data.", -190, 1386, "#333333",
               size=44, weight="normal", font=FONT)

logo_df = pd.DataFrame({"k": ["logo"]})
LOGO_X, LOGO_Y, LOGO_SIZE = 2950, 1392, 112 * 112
logo_disc = alt.Chart(logo_df).mark_point(
    shape="circle", filled=True, color="#12385F", opacity=1, size=LOGO_SIZE, strokeWidth=0
).encode(x=alt.value(LOGO_X), y=alt.value(LOGO_Y))
logo_box = alt.Chart(logo_df).mark_point(
    shape="M0,-1H1V1H0Z", filled=True, color="#12385F", opacity=1, size=LOGO_SIZE, strokeWidth=0
).encode(x=alt.value(LOGO_X), y=alt.value(LOGO_Y))
logo_white = alt.Chart(logo_df).mark_point(
    shape="M0.03,-1A1,1 0 0 1 0.03,1Z", filled=True, color="#FFFFFF", opacity=1, size=LOGO_SIZE, strokeWidth=0
).encode(x=alt.value(LOGO_X), y=alt.value(LOGO_Y))

chart = alt.layer(
    points, cut_line, rect_high, rect_low, center_text, *corner, source, logo_disc, logo_box, logo_white
).properties(
    width=W, height=H,
    autosize=alt.AutoSizeParams(type="none"),
    padding={"left": 256, "top": 298, "right": 95, "bottom": 635},
    title=alt.TitleParams(
        "Figure 4. Low- vs. High-Dependence Imports", anchor="start", frame="group",
        dx=-190, offset=125, fontSize=83, font=BOLD_FONT, fontWeight="bold", color="#333333"),
    background="#FFFFFF",
).configure_view(stroke=None)

chart.save("out.html", embed_options={"renderer": "svg", "actions": False})
